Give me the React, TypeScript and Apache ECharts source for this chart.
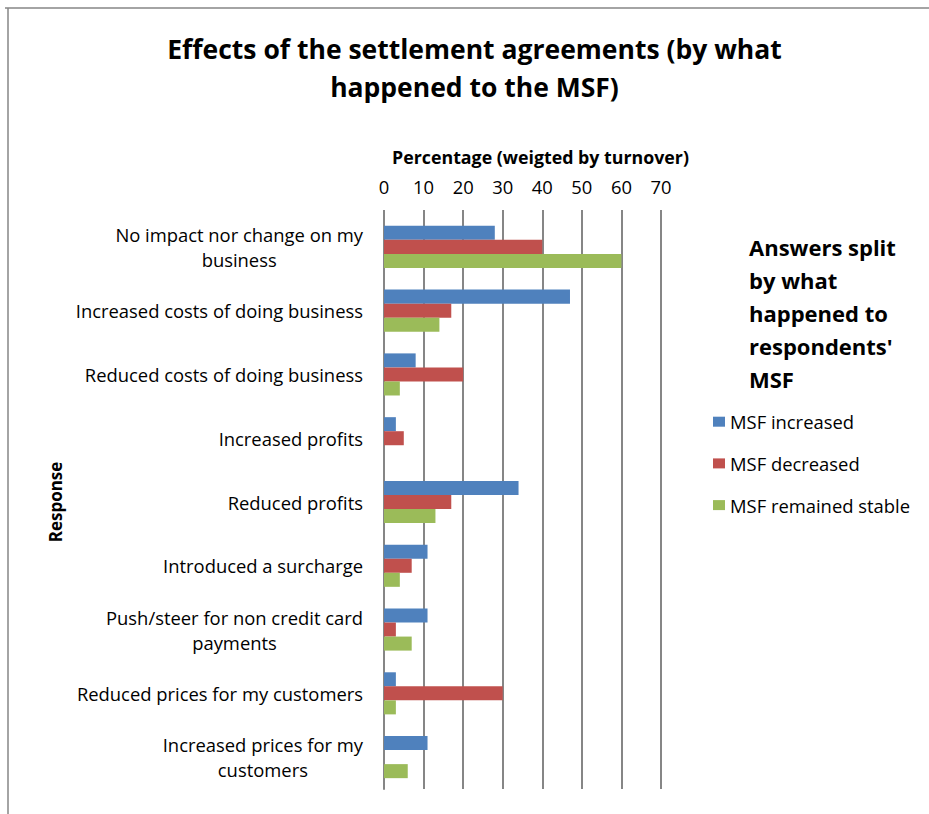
import React, { useEffect, useRef } from 'react';
import * as echarts from 'echarts';

const categories = [
  'No impact nor change on my\nbusiness',
  'Increased costs of doing business',
  'Reduced costs of doing business',
  'Increased profits',
  'Reduced profits',
  'Introduced a surcharge',
  'Push/steer for non credit card\npayments',
  'Reduced prices for my customers',
  'Increased prices for my\ncustomers',
];
const seriesNames = ['MSF increased', 'MSF decreased', 'MSF remained stable'];
const msfIncreased = [28, 47, 8, 3, 34, 11, 11, 3, 11];
const msfDecreased = [40, 17, 20, 5, 17, 7, 3, 30, 0];
const msfStable = [60, 14, 4, 0, 13, 4, 7, 3, 6];
const seriesColors = ['#4F81BD', '#C0504D', '#9BBB59'];
const axisMin = 0;
const axisMax = 70;
const axisInterval = 10;

const titleText = 'Effects of the settlement agreements (by what\nhappened to the MSF)';
const xAxisName = 'Percentage (weigted by turnover)';
const yAxisName = 'Response';
const legendTitle = "Answers split\nby what\nhappened to\nrespondents'\nMSF";

const FONT = '"Open Sans", Lato, "Noto Sans", sans-serif';
const GRID = '#868686';
const LABEL_SIZE = 18.4;

export default function App() {
  const ref = useRef<HTMLDivElement>(null);
  useEffect(() => {
    document.body.style.margin = '0';
    if (!ref.current) return;
    const chart = echarts.init(ref.current, null, { renderer: 'svg' });
    const values = [msfIncreased, msfDecreased, msfStable];
    chart.setOption({
      animation: false,
      backgroundColor: '#ffffff',
      textStyle: { fontFamily: FONT },
      grid: { left: 384, right: 268, top: 215, bottom: 25, containLabel: false },
      xAxis: {
        type: 'value',
        position: 'top',
        min: axisMin,
        max: axisMax,
        interval: axisInterval,
        name: xAxisName,
        nameLocation: 'middle',
        nameGap: 49,
        nameTextStyle: {
          fontFamily: FONT, fontWeight: 'bold', fontSize: 17.8, color: '#000',
          padding: [0, 0, 0, 36],
        },
        axisLine: { show: false },
        axisTick: { show: true, length: 5, lineStyle: { color: GRID, width: 2 } },
        axisLabel: { fontFamily: FONT, fontSize: LABEL_SIZE, color: '#000', margin: 20 },
        splitLine: { show: true, lineStyle: { color: GRID, width: 2 } },
      },
      yAxis: {
        type: 'category',
        inverse: true,
        data: categories,
        name: yAxisName,
        nameLocation: 'middle',
        nameRotate: 90,
        nameGap: 320,
        nameTextStyle: { fontFamily: FONT, fontWeight: 'bold', fontSize: 17, color: '#000' },
        axisLine: { show: true, lineStyle: { color: GRID, width: 2 } },
        axisTick: { show: false },
        axisLabel: {
          margin: 21,
          align: 'right',
          fontFamily: FONT,
          fontSize: LABEL_SIZE,
          color: '#000',
          lineHeight: 25,
          formatter: (v: string) => v.split('\n').map((l) => `{c|${l}}`).join('\n'),
          rich: {
            c: { align: 'center', fontFamily: FONT, fontSize: LABEL_SIZE, color: '#000', lineHeight: 25 },
          },
        },
        splitLine: { show: false },
      },
      legend: {
        orient: 'vertical',
        left: 713,
        top: 411.7,
        padding: 0,
        itemWidth: 12,
        itemHeight: 10,
        itemGap: 21.7,
        icon: 'rect',
        textStyle: { fontFamily: FONT, fontSize: LABEL_SIZE, color: '#000', lineHeight: 20 },
        data: seriesNames,
      },
      series: seriesNames.map((name, i) => ({
        name,
        type: 'bar',
        data: values[i],
        barGap: '0%',
        barCategoryGap: '34%',
        itemStyle: { color: seriesColors[i] },
      })),
      graphic: [
        { type: 'line', shape: { x1: 5, y1: 8, x2: 929, y2: 8 }, style: { stroke: GRID, lineWidth: 1.5 } },
        { type: 'line', shape: { x1: 8, y1: 8, x2: 8, y2: 814 }, style: { stroke: GRID, lineWidth: 1.5 } },
        {
          type: 'text', x: 474.5, y: 30,
          style: {
            text: titleText, textAlign: 'center', textVerticalAlign: 'top',
            fontFamily: FONT, fontWeight: 'bold', fontSize: 26.5, lineHeight: 38, fill: '#000',
          },
        },
        {
          type: 'text', x: 749, y: 230,
          style: {
            text: legendTitle, textAlign: 'left', textVerticalAlign: 'top',
            fontFamily: FONT, fontWeight: 'bold', fontSize: 22, lineHeight: 33, fill: '#000',
          },
        },
      ],
    });
    return () => chart.dispose();
  }, []);
  return <div ref={ref} style={{ width: 929, height: 814 }} />;
}
